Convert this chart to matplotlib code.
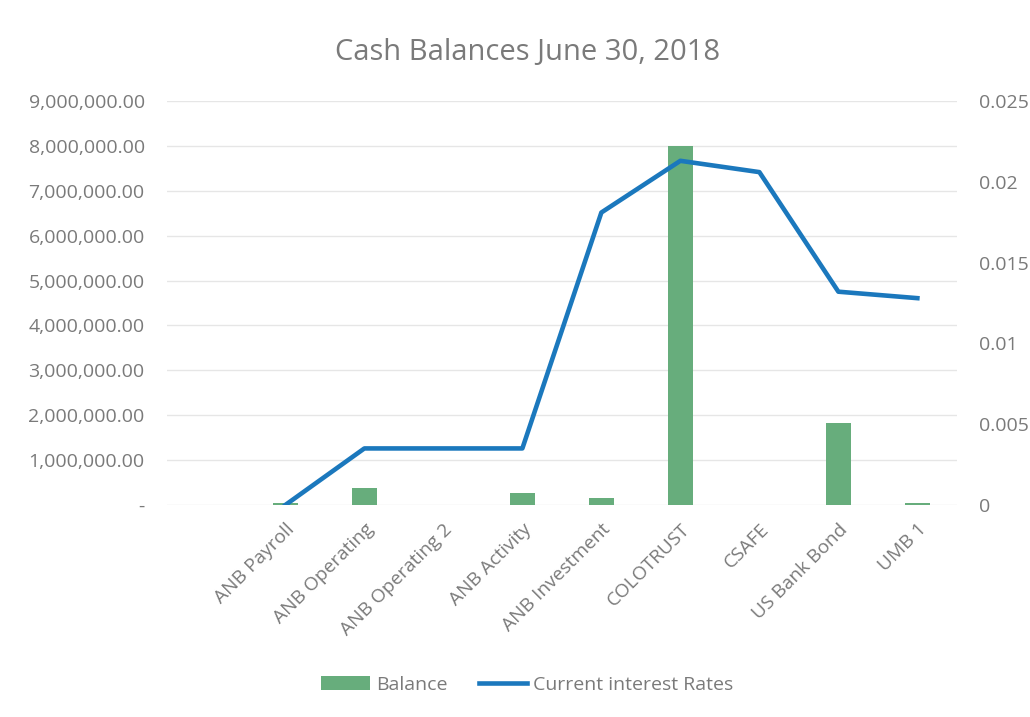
import matplotlib.pyplot as plt
import numpy as np
from matplotlib.ticker import FuncFormatter

plt.rcParams['font.family'] = ['Open Sans', 'DejaVu Sans']

accounts = ['ANB Payroll', 'ANB Operating', 'ANB Operating 2', 'ANB Activity',
            'ANB Investment', 'COLOTRUST', 'CSAFE', 'US Bank Bond', 'UMB 1']
balance = [50000, 380000, 0, 270000, 160000, 7990000, 0, 1830000, 40000]
rates = [0.0, 0.0035, 0.0035, 0.0035, 0.0181, 0.0213, 0.0206, 0.0132, 0.0128]

text_grey = '#7a7a7a'
bar_green = '#67ad7c'
line_blue = '#1b78bd'

fig = plt.figure(figsize=(10.3, 7.17), dpi=100)
ax = fig.add_axes([0.162, 0.2957, 0.767, 0.5634])
x = np.arange(len(accounts))

ax.bar(x, balance, width=0.32, color=bar_green, label='Balance', zorder=2)
ax.set_ylim(0, 9000000)
ax.set_yticks(np.arange(0, 9000001, 1000000))
ax.yaxis.set_major_formatter(FuncFormatter(lambda v, p: '-' if v == 0 else f'{v:,.2f}'))
ax.grid(axis='y', color='#e6e6e6', linewidth=1, zorder=0)
# the source chart leaves an empty slot before the first account
ax.set_xlim(-1.5, len(accounts) - 0.5)
ax.set_xticks(x)
ax.set_xticklabels(accounts, rotation=45, ha='right', rotation_mode='anchor')
ax.tick_params(axis='y', length=0, colors=text_grey, labelsize=14, pad=16)
ax.tick_params(axis='x', length=0, colors=text_grey, labelsize=13.8, pad=11)

ax2 = ax.twinx()
ax2.plot(x, rates, color=line_blue, linewidth=3.3, label='Current interest Rates', zorder=3)
ax2.set_ylim(0, 0.025)
ax2.set_yticks([0, 0.005, 0.01, 0.015, 0.02, 0.025])
ax2.set_yticklabels(['0', '0.005', '0.01', '0.015', '0.02', '0.025'])
ax2.tick_params(axis='y', length=0, colors=text_grey, labelsize=14, pad=16)

for a in (ax, ax2):
    for s in a.spines.values():
        s.set_visible(False)

fig.text(0.512, 0.927, 'Cash Balances June 30, 2018', ha='center', va='center',
         fontsize=21, color=text_grey)

h1, l1 = ax.get_legend_handles_labels()
h2, l2 = ax2.get_legend_handles_labels()
fig.legend(h1 + h2, l1 + l2, loc='center', bbox_to_anchor=(0.512, 0.045), ncol=2,
           frameon=False, fontsize=14, labelcolor=text_grey, handlelength=2.5,
           handletextpad=0.3, columnspacing=1.6)

fig.savefig('out.png', dpi=100)
